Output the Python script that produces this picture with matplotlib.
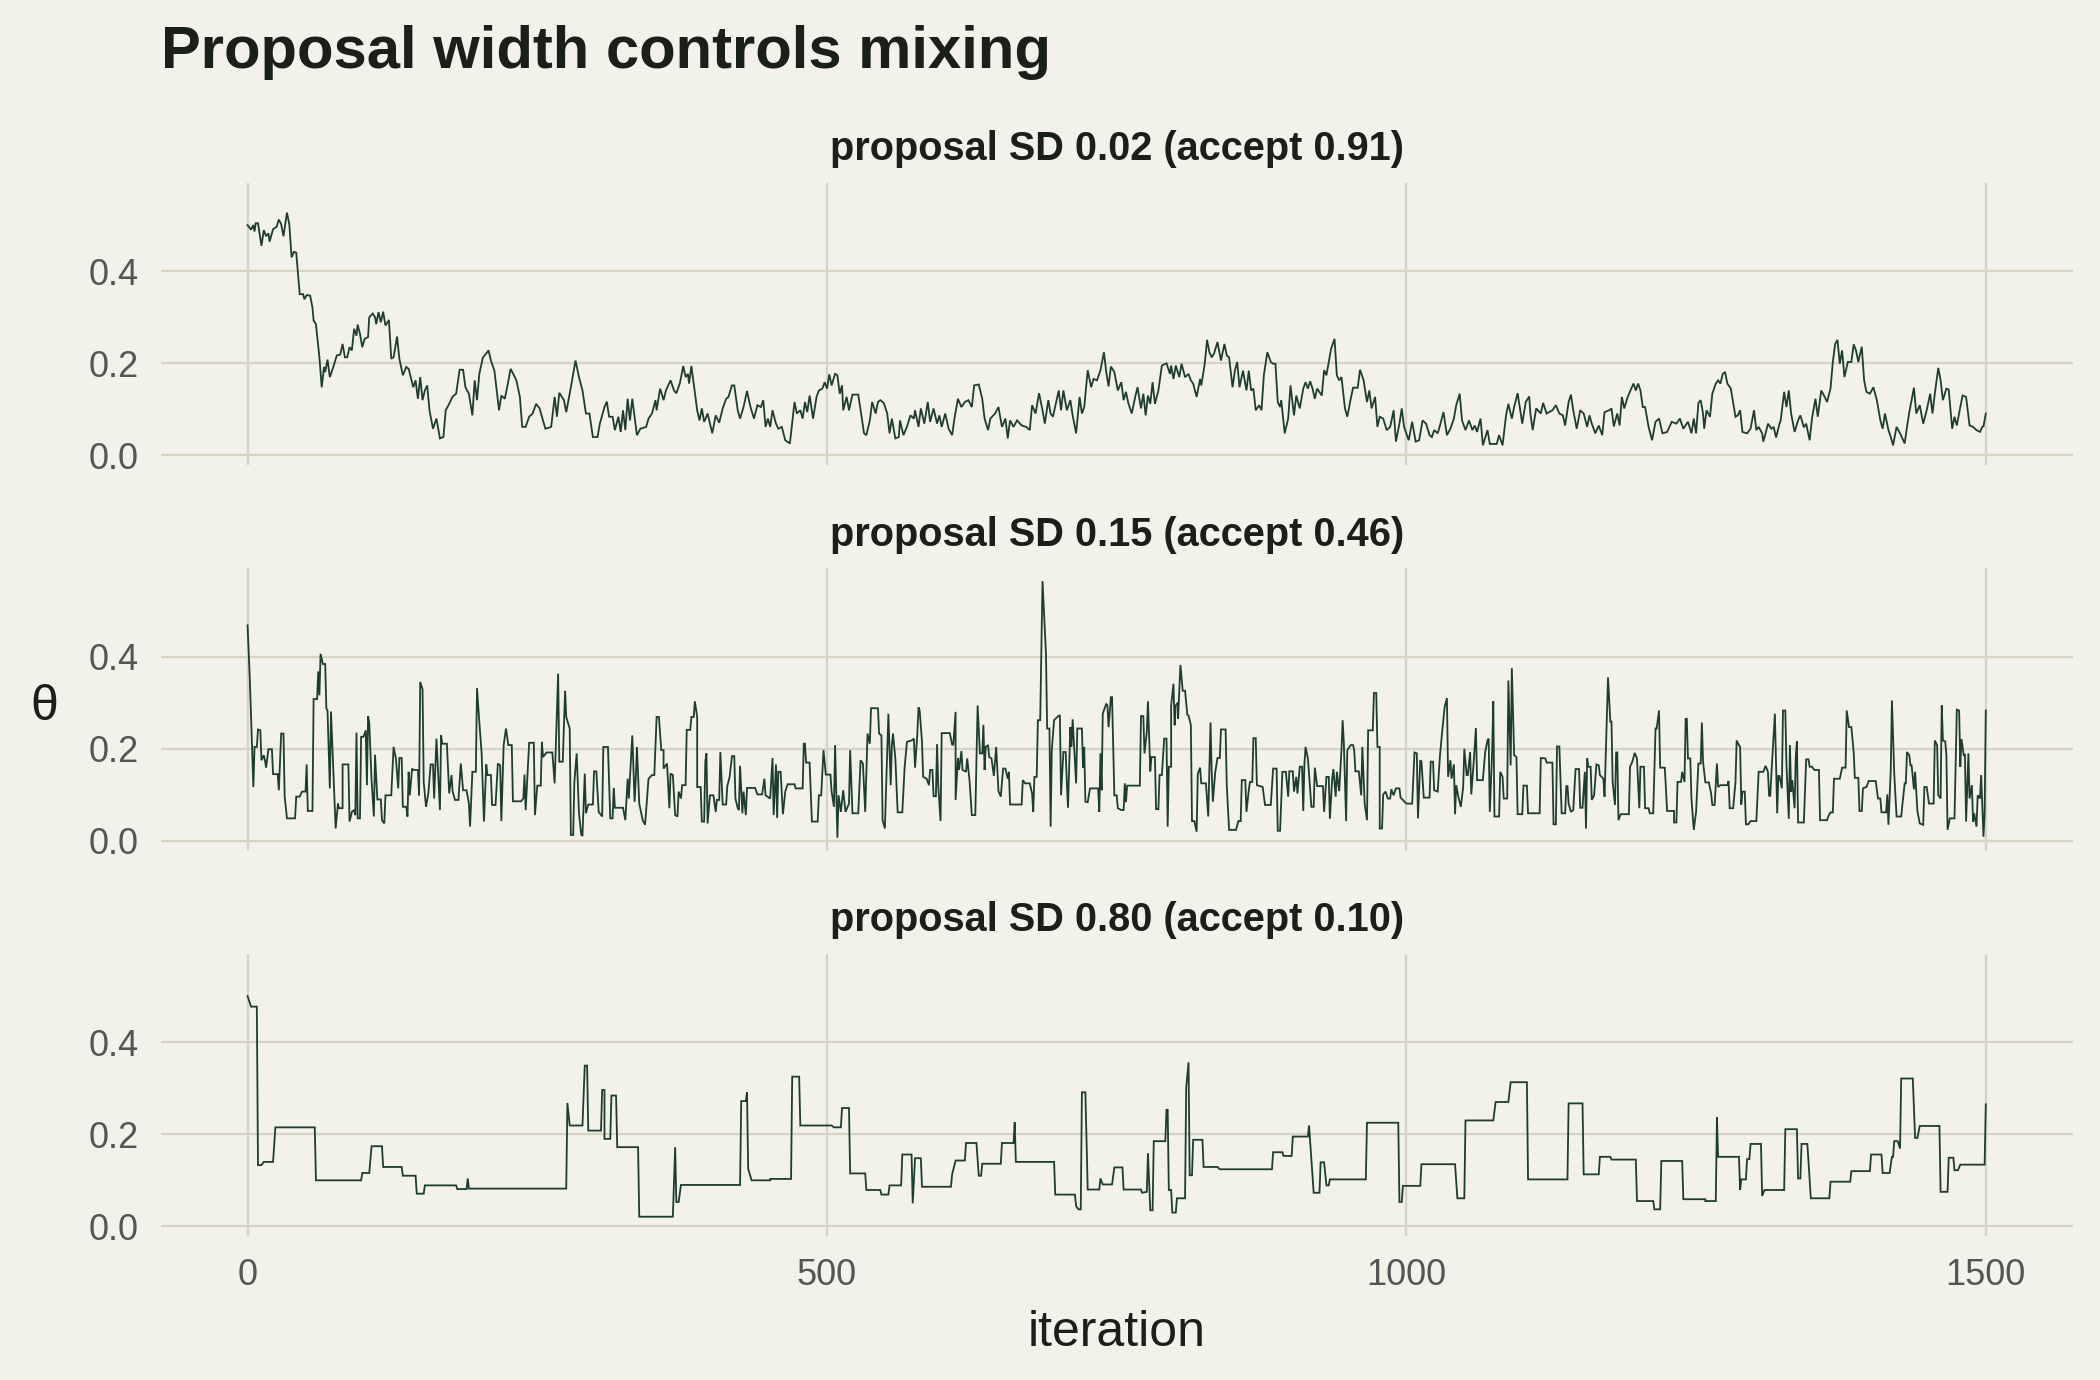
import matplotlib.pyplot as plt

# (iteration, theta) pairs
trace_sd002 = [
    (0, .50), (3, .49), (5, .50), (6, .486), (7, .504), (9, .504), (12, .455), (14, .489), (16, .476), (18, .482),
    (19, .464), (22, .491), (25, .496), (27, .512), (29, .502), (31, .476), (34, .527), (36, .502), (38, .43), (40, .442),
    (42, .44), (45, .35), (48, .35), (49, .339), (51, .348), (54, .347), (56, .321), (57, .293), (59, .285), (62, .213),
    (64, .148), (66, .192), (67, .181), (69, .208), (71, .17), (74, .192), (77, .217), (80, .219), (82, .242), (84, .213),
    (86, .213), (88, .235), (90, .228), (92, .275), (94, .26), (95, .284), (97, .264), (99, .235), (101, .253), (104, .257),
    (105, .30), (108, .308), (110, .30), (111, .285), (113, .311), (115, .289), (117, .312), (119, .282), (122, .294), (124, .21),
    (126, .213), (129, .258), (131, .21), (134, .174), (137, .192), (139, .188), (143, .148), (145, .163), (147, .123), (149, .17),
    (151, .12), (153, .141), (155, .152), (157, .098), (160, .058), (163, .08), (166, .037), (169, .04), (171, .098), (174, .112),
    (177, .128), (180, .134), (183, .186), (186, .186), (188, .148), (191, .134), (194, .087), (196, .163), (198, .12), (200, .177),
    (203, .212), (208, .228), (210, .206), (213, .184), (217, .098), (219, .13), (222, .123), (224, .148), (227, .188), (232, .163),
    (235, .127), (237, .062), (240, .062), (243, .084), (246, .091), (249, .112), (252, .102), (255, .076), (257, .058), (262, .062),
    (265, .127), (267, .084), (269, .136), (273, .12), (275, .094), (279, .148), (283, .206), (286, .17), (289, .141), (292, .091),
    (295, .091), (298, .04), (302, .04), (304, .069), (308, .105), (310, .117), (312, .084), (315, .084), (317, .055), (320, .084),
    (322, .051), (324, .098), (326, .055), (328, .123), (330, .076), (332, .123), (336, .044), (339, .058), (344, .062), (346, .08),
    (349, .091), (352, .12), (353, .098), (356, .145), (359, .12), (361, .141), (365, .163), (368, .141), (370, .135), (373, .156),
    (376, .194), (378, .17), (380, .177), (381, .156), (383, .194), (385, .156), (388, .098), (390, .076), (392, .102), (394, .073),
    (397, .091), (401, .048), (404, .087), (407, .071), (410, .102), (413, .123), (415, .127), (418, .152), (420, .152), (423, .098),
    (425, .08), (428, .105), (431, .14), (434, .105), (437, .08), (440, .109), (443, .105), (445, .12), (447, .062), (449, .08),
    (451, .062), (453, .098), (456, .069), (458, .058), (461, .062), (464, .033), (468, .026), (472, .116), (474, .091), (477, .098),
    (479, .08), (481, .116), (483, .094), (485, .13), (488, .08), (491, .127), (493, .141), (496, .145), (498, .159), (500, .145),
    (502, .176), (504, .152), (507, .177), (509, .174), (511, .134), (513, .152), (514, .098), (517, .127), (519, .098), (522, .132),
    (527, .132), (529, .098), (532, .048), (534, .044), (537, .076), (539, .116), (542, .091), (544, .116), (546, .12), (549, .114),
    (552, .091), (554, .048), (556, .08), (559, .037), (562, .04), (563, .076), (566, .044), (569, .062), (572, .087), (575, .08),
    (576, .098), (579, .062), (581, .102), (584, .069), (587, .116), (589, .073), (592, .102), (595, .069), (597, .087), (599, .062),
    (602, .091), (605, .058), (608, .044), (610, .08), (613, .123), (616, .105), (619, .116), (622, .12), (625, .105), (627, .152),
    (631, .154), (634, .123), (636, .08), (639, .055), (641, .08), (645, .091), (648, .105), (651, .062), (654, .08), (656, .037),
    (658, .076), (661, .062), (664, .076), (668, .065), (672, .062), (675, .055), (677, .109), (680, .091), (683, .135), (686, .098),
    (688, .069), (691, .12), (693, .091), (695, .084), (700, .141), (702, .098), (704, .141), (707, .098), (710, .12), (712, .087),
    (715, .048), (718, .127), (720, .091), (722, .105), (725, .185), (728, .148), (730, .166), (733, .163), (736, .185), (739, .224),
    (741, .181), (743, .15), (745, .193), (748, .181), (751, .141), (754, .159), (756, .12), (758, .138), (760, .114), (763, .091),
    (766, .127), (768, .148), (771, .102), (773, .134), (775, .087), (777, .13), (779, .112), (781, .159), (783, .112), (786, .141),
    (789, .195), (793, .20), (796, .177), (797, .195), (799, .166), (801, .195), (804, .17), (806, .199), (809, .17), (812, .177),
    (814, .163), (816, .156), (819, .127), (822, .166), (823, .152), (826, .199), (828, .251), (830, .224), (832, .213), (834, .221),
    (837, .246), (840, .206), (843, .242), (845, .217), (847, .213), (850, .148), (852, .184), (854, .203), (856, .148), (859, .184),
    (862, .141), (864, .184), (866, .141), (868, .145), (870, .098), (873, .109), (875, .098), (877, .174), (880, .224), (883, .203),
    (885, .199), (887, .199), (889, .116), (891, .105), (892, .12), (895, .048), (898, .08), (900, .152), (903, .087), (905, .13),
    (908, .102), (911, .145), (913, .159), (915, .145), (917, .161), (919, .145), (921, .123), (923, .145), (927, .13), (929, .185),
    (931, .174), (935, .231), (938, .253), (940, .174), (942, .163), (944, .17), (947, .102), (949, .084), (952, .123), (954, .147),
    (958, .147), (960, .186), (963, .164), (966, .116), (968, .141), (970, .102), (973, .127), (975, .062), (977, .084), (980, .08),
    (983, .055), (986, .062), (989, .098), (991, .03), (994, .069), (996, .102), (998, .062), (1002, .033), (1005, .073), (1008, .03),
    (1011, .033), (1014, .076), (1017, .069), (1020, .044), (1022, .04), (1024, .055), (1027, .048), (1029, .065), (1032, .094), (1035, .044),
    (1038, .058), (1041, .08), (1043, .109), (1046, .134), (1048, .076), (1051, .055), (1054, .076), (1057, .055), (1059, .065), (1061, .051),
    (1064, .08), (1066, .022), (1070, .055), (1072, .025), (1078, .025), (1080, .044), (1083, .022), (1086, .087), (1088, .112), (1091, .08),
    (1093, .105), (1096, .135), (1100, .069), (1103, .116), (1106, .128), (1107, .091), (1109, .055), (1112, .102), (1116, .091), (1118, .114),
    (1121, .091), (1126, .098), (1129, .109), (1132, .091), (1135, .087), (1137, .065), (1140, .116), (1142, .132), (1144, .098), (1147, .058),
    (1150, .098), (1153, .091), (1156, .062), (1158, .087), (1160, .069), (1163, .048), (1166, .065), (1169, .044), (1171, .094), (1175, .098),
    (1177, .102), (1179, .063), (1182, .091), (1184, .065), (1186, .127), (1188, .102), (1191, .127), (1194, .145), (1196, .156), (1198, .141),
    (1200, .156), (1202, .141), (1204, .105), (1206, .105), (1209, .062), (1212, .033), (1215, .073), (1218, .08), (1221, .048), (1225, .051),
    (1229, .073), (1233, .069), (1236, .08), (1239, .058), (1243, .073), (1246, .048), (1248, .08), (1250, .048), (1252, .114), (1254, .12),
    (1256, .091), (1257, .058), (1259, .098), (1262, .084), (1264, .134), (1267, .156), (1269, .163), (1271, .156), (1273, .177), (1275, .181),
    (1277, .156), (1280, .145), (1284, .084), (1286, .087), (1288, .098), (1290, .051), (1294, .048), (1297, .058), (1300, .098), (1302, .055),
    (1304, .062), (1307, .048), (1308, .03), (1311, .058), (1312, .069), (1315, .058), (1317, .062), (1319, .039), (1322, .069), (1323, .076),
    (1326, .138), (1328, .105), (1330, .141), (1332, .091), (1335, .051), (1338, .076), (1340, .087), (1343, .061), (1345, .069), (1348, .033),
    (1350, .08), (1353, .123), (1355, .084), (1358, .141), (1361, .127), (1363, .116), (1366, .145), (1368, .203), (1370, .242), (1372, .251),
    (1374, .199), (1376, .228), (1378, .17), (1381, .203), (1384, .203), (1386, .241), (1388, .228), (1390, .203), (1393, .236), (1395, .163),
    (1397, .138), (1400, .134), (1403, .148), (1406, .12), (1409, .076), (1411, .058), (1413, .091), (1416, .055), (1418, .04), (1420, .022),
    (1423, .062), (1426, .048), (1430, .026), (1432, .062), (1434, .094), (1438, .147), (1440, .091), (1443, .109), (1446, .069), (1449, .098),
    (1452, .134), (1454, .091), (1456, .134), (1459, .19), (1461, .163), (1463, .12), (1466, .145), (1468, .143), (1471, .058), (1473, .084),
    (1475, .065), (1478, .105), (1480, .13), (1483, .127), (1486, .065), (1489, .062), (1492, .055), (1495, .051), (1497, .062), (1498, .063),
    (1500, .091),
]

trace_sd015 = [
    (0, .468), (2, .348), (5, .121), (5, .117), (6, .204), (8, .204), (9, .242), (11, .24), (12, .175), (14, .186),
    (15, .175), (16, .159), (18, .199), (21, .199), (22, .145), (26, .145), (27, .11), (29, .233), (31, .233), (32, .097),
    (34, .049), (41, .049), (42, .096), (45, .096), (47, .107), (50, .107), (51, .166), (52, .065), (56, .065), (57, .308),
    (60, .308), (61, .368), (62, .316), (63, .406), (65, .384), (67, .384), (68, .287), (69, .283), (71, .114), (72, .281),
    (74, .156), (76, .027), (78, .081), (79, .071), (82, .071), (82, .166), (87, .166), (88, .042), (90, .063), (92, .067),
    (93, .056), (94, .235), (95, .049), (97, .049), (98, .226), (100, .226), (102, .24), (103, .121), (104, .271), (105, .258),
    (107, .132), (109, .053), (110, .187), (112, .09), (115, .09), (116, .045), (118, .038), (119, .099), (124, .099), (126, .204),
    (128, .179), (130, .114), (131, .18), (133, .18), (134, .074), (137, .074), (138, .053), (139, .15), (140, .099), (142, .157),
    (143, .154), (147, .154), (148, .099), (149, .345), (151, .329), (152, .128), (154, .074), (156, .103), (158, .166), (160, .166),
    (161, .092), (163, .222), (166, .067), (167, .229), (168, .211), (172, .211), (174, .103), (176, .143), (177, .107), (179, .089),
    (182, .089), (184, .168), (186, .11), (189, .11), (191, .081), (192, .031), (194, .15), (197, .15), (198, .332), (200, .258),
    (202, .19), (204, .042), (206, .166), (207, .143), (210, .143), (211, .078), (214, .078), (216, .168), (218, .164), (219, .043),
    (221, .208), (223, .244), (225, .208), (228, .208), (229, .086), (236, .086), (238, .092), (239, .144), (240, .067), (243, .213),
    (247, .213), (248, .056), (250, .12), (253, .12), (254, .215), (255, .182), (258, .192), (263, .192), (265, .125), (266, .204),
    (268, .363), (269, .172), (272, .172), (274, .326), (275, .269), (278, .244), (279, .013), (281, .013), (282, .128), (284, .19),
    (286, .06), (288, .013), (289, .012), (291, .146), (292, .06), (294, .079), (298, .079), (299, .151), (301, .151), (303, .063),
    (306, .053), (307, .204), (311, .204), (313, .049), (315, .049), (316, .115), (317, .072), (324, .072), (326, .045), (328, .135),
    (329, .092), (332, .229), (334, .085), (335, .135), (336, .204), (338, .081), (341, .045), (343, .035), (344, .067), (346, .135),
    (349, .143), (351, .143), (353, .269), (355, .269), (357, .197), (359, .197), (359, .157), (362, .168), (364, .071), (365, .146),
    (367, .143), (369, .056), (371, .053), (372, .107), (374, .092), (375, .121), (378, .121), (379, .241), (382, .241), (383, .269),
    (385, .269), (386, .303), (388, .269), (388, .117), (391, .117), (392, .042), (394, .042), (395, .172), (396, .19), (397, .038),
    (399, .099), (402, .099), (404, .063), (405, .089), (407, .089), (408, .193), (410, .079), (413, .079), (414, .119), (416, .139),
    (418, .184), (420, .184), (421, .092), (423, .071), (424, .067), (425, .163), (427, .06), (428, .107), (430, .056), (431, .115),
    (438, .115), (440, .101), (444, .101), (446, .135), (447, .099), (451, .092), (453, .18), (454, .056), (456, .166), (457, .05),
    (458, .15), (460, .15), (462, .058), (464, .107), (466, .123), (472, .123), (473, .114), (479, .114), (480, .211), (481, .211),
    (482, .17), (485, .17), (487, .042), (492, .042), (493, .099), (495, .099), (497, .197), (499, .144), (503, .144), (504, .107),
    (506, .074), (507, .208), (509, .007), (510, .099), (512, .063), (514, .11), (516, .063), (519, .081), (520, .197), (522, .06),
    (527, .06), (529, .175), (531, .168), (533, .063), (535, .233), (537, .211), (538, .288), (544, .288), (545, .233), (547, .229),
    (548, .045), (550, .027), (551, .114), (553, .276), (555, .121), (556, .208), (557, .233), (559, .179), (561, .062), (565, .062),
    (567, .159), (569, .215), (573, .218), (575, .222), (576, .159), (578, .233), (579, .29), (580, .283), (582, .215), (583, .139),
    (586, .135), (588, .121), (589, .154), (591, .154), (592, .097), (594, .097), (595, .21), (596, .121), (598, .043), (599, .234),
    (606, .234), (608, .209), (609, .209), (611, .28), (611, .089), (613, .179), (614, .154), (616, .195), (617, .154), (620, .15),
    (621, .179), (623, .132), (625, .056), (628, .056), (630, .294), (632, .19), (634, .19), (635, .252), (636, .154), (637, .204),
    (639, .208), (640, .182), (642, .179), (644, .141), (646, .204), (648, .108), (650, .096), (652, .157), (654, .157), (656, .135),
    (657, .15), (658, .079), (668, .079), (669, .132), (671, .125), (675, .125), (677, .103), (678, .063), (679, .139), (681, .139),
    (682, .262), (684, .262), (686, .564), (689, .406), (690, .244), (692, .244), (693, .031), (694, .197), (696, .262), (700, .272),
    (701, .272), (702, .099), (704, .193), (706, .193), (707, .125), (708, .072), (710, .247), (711, .204), (712, .264), (715, .125),
    (716, .244), (720, .244), (721, .159), (722, .204), (723, .085), (725, .084), (727, .114), (734, .114), (735, .063), (736, .19),
    (737, .11), (738, .276), (741, .298), (742, .294), (743, .247), (745, .312), (746, .312), (748, .099), (750, .099), (751, .071),
    (754, .067), (756, .067), (757, .125), (758, .084), (759, .12), (770, .12), (771, .271), (773, .271), (774, .19), (776, .236),
    (777, .303), (779, .151), (780, .182), (783, .182), (784, .069), (786, .069), (787, .143), (789, .143), (791, .222), (793, .222),
    (794, .031), (795, .161), (797, .161), (797, .294), (799, .341), (800, .251), (801, .294), (803, .301), (803, .265), (805, .382),
    (807, .326), (809, .326), (811, .274), (812, .272), (814, .252), (815, .043), (817, .043), (819, .02), (820, .146), (822, .159),
    (823, .125), (827, .125), (829, .053), (831, .257), (832, .15), (833, .085), (835, .148), (837, .18), (839, .18), (840, .242),
    (844, .242), (845, .121), (847, .024), (853, .024), (855, .043), (857, .043), (858, .132), (861, .132), (862, .063), (864, .11),
    (865, .128), (867, .128), (868, .223), (870, .223), (871, .121), (876, .117), (878, .078), (883, .078), (885, .157), (888, .157),
    (889, .022), (891, .022), (893, .15), (896, .15), (898, .096), (899, .151), (902, .151), (903, .107), (905, .139), (906, .103),
    (908, .161), (910, .161), (911, .065), (912, .166), (913, .204), (915, .179), (916, .146), (918, .074), (920, .074), (921, .159),
    (923, .119), (928, .119), (929, .063), (931, .139), (933, .139), (934, .048), (936, .135), (937, .156), (939, .096), (940, .15),
    (942, .108), (944, .197), (945, .262), (946, .215), (948, .043), (949, .197), (952, .208), (954, .208), (955, .197), (956, .151),
    (959, .151), (961, .099), (962, .204), (964, .081), (966, .045), (967, .24), (971, .24), (972, .321), (974, .321), (975, .204),
    (977, .204), (977, .027), (979, .027), (980, .101), (982, .107), (984, .092), (986, .092), (987, .112), (989, .099), (991, .114),
    (994, .114), (995, .094), (1000, .081), (1005, .081), (1007, .192), (1009, .19), (1010, .049), (1012, .175), (1013, .172), (1015, .094),
    (1020, .094), (1021, .172), (1023, .172), (1024, .11), (1027, .107), (1029, .186), (1031, .24), (1033, .29), (1035, .31), (1036, .139),
    (1038, .175), (1039, .135), (1041, .166), (1042, .058), (1043, .121), (1045, .094), (1047, .074), (1049, .117), (1050, .2), (1052, .143),
    (1053, .143), (1055, .193), (1056, .101), (1058, .168), (1060, .245), (1061, .132), (1066, .132), (1068, .193), (1070, .218), (1071, .222),
    (1072, .063), (1074, .193), (1075, .303), (1076, .053), (1080, .053), (1081, .15), (1083, .139), (1084, .092), (1087, .092), (1088, .348),
    (1090, .164), (1091, .375), (1093, .186), (1095, .182), (1096, .058), (1100, .058), (1101, .12), (1104, .12), (1105, .06), (1115, .06),
    (1116, .18), (1120, .179), (1121, .17), (1126, .17), (1127, .036), (1129, .036), (1130, .205), (1132, .205), (1134, .06), (1137, .06),
    (1138, .119), (1139, .119), (1140, .081), (1142, .063), (1144, .067), (1146, .156), (1149, .156), (1150, .072), (1152, .072), (1154, .15),
    (1155, .027), (1156, .179), (1157, .161), (1159, .161), (1160, .089), (1162, .099), (1164, .166), (1166, .164), (1167, .143), (1170, .135),
    (1171, .096), (1173, .265), (1174, .355), (1176, .259), (1177, .259), (1178, .128), (1180, .078), (1181, .192), (1182, .192), (1183, .045),
    (1185, .058), (1192, .058), (1193, .161), (1195, .172), (1197, .191), (1199, .179), (1201, .071), (1202, .161), (1205, .161), (1206, .071),
    (1209, .071), (1210, .06), (1213, .06), (1215, .244), (1216, .244), (1218, .283), (1219, .159), (1223, .159), (1225, .065), (1231, .065),
    (1231, .04), (1233, .04), (1234, .128), (1237, .128), (1238, .15), (1240, .128), (1241, .265), (1242, .265), (1243, .179), (1245, .179),
    (1246, .092), (1248, .024), (1250, .063), (1252, .168), (1254, .168), (1255, .257), (1256, .172), (1258, .127), (1261, .127), (1263, .103),
    (1264, .078), (1266, .078), (1268, .168), (1269, .117), (1271, .121), (1277, .121), (1278, .13), (1279, .071), (1282, .071), (1284, .128),
    (1285, .218), (1287, .208), (1288, .204), (1289, .079), (1290, .107), (1292, .107), (1293, .036), (1295, .036), (1297, .043), (1302, .043),
    (1304, .15), (1308, .15), (1310, .163), (1312, .15), (1313, .098), (1314, .098), (1315, .146), (1318, .276), (1320, .06), (1321, .141),
    (1322, .141), (1324, .114), (1325, .283), (1327, .283), (1328, .164), (1330, .048), (1331, .208), (1332, .107), (1333, .132), (1335, .071),
    (1336, .182), (1337, .216), (1338, .04), (1343, .04), (1345, .177), (1347, .177), (1348, .161), (1350, .161), (1352, .154), (1356, .154),
    (1357, .045), (1363, .045), (1364, .053), (1366, .062), (1368, .062), (1369, .135), (1374, .135), (1376, .159), (1379, .159), (1380, .283),
    (1382, .247), (1384, .247), (1386, .193), (1387, .137), (1390, .137), (1391, .065), (1393, .065), (1394, .114), (1397, .117), (1399, .13),
    (1405, .13), (1407, .092), (1409, .092), (1410, .062), (1414, .062), (1415, .101), (1416, .035), (1418, .154), (1419, .305), (1421, .146),
    (1423, .053), (1427, .053), (1428, .078), (1430, .125), (1431, .125), (1432, .193), (1434, .186), (1435, .164), (1436, .164), (1438, .112),
    (1439, .15), (1441, .065), (1443, .038), (1446, .035), (1447, .117), (1449, .117), (1451, .081), (1455, .081), (1456, .218), (1458, .208),
    (1459, .099), (1461, .092), (1462, .294), (1463, .218), (1465, .216), (1466, .187), (1467, .024), (1469, .049), (1473, .049), (1475, .285),
    (1477, .283), (1478, .161), (1479, .221), (1481, .186), (1482, .187), (1483, .042), (1485, .19), (1486, .092), (1488, .121), (1489, .042),
    (1490, .06), (1492, .031), (1493, .099), (1495, .092), (1496, .143), (1498, .009), (1499, .06), (1500, .283),
]

trace_sd080 = [
    (0, .50), (3, .477), (8, .477), (9, .133), (12, .133), (14, .14), (22, .14), (24, .215), (58, .215), (59, .10),
    (98, .10), (99, .116), (105, .116), (107, .174), (116, .174), (117, .129), (133, .129), (134, .11), (145, .11), (146, .071),
    (152, .071), (153, .089), (180, .089), (181, .081), (189, .081), (190, .104), (191, .082), (275, .082), (276, .268), (278, .219),
    (289, .219), (291, .349), (293, .349), (294, .208), (305, .208), (306, .296), (308, .296), (308, .19), (313, .19), (314, .284),
    (318, .284), (319, .172), (337, .172), (338, .021), (367, .021), (369, .172), (370, .053), (372, .053), (374, .09), (425, .09),
    (426, .272), (430, .272), (431, .291), (432, .125), (435, .10), (451, .10), (451, .103), (469, .103), (470, .325), (476, .325),
    (477, .219), (504, .219), (506, .215), (512, .215), (513, .257), (519, .257), (520, .115), (533, .115), (534, .079), (546, .079),
    (547, .069), (553, .069), (554, .089), (564, .089), (565, .156), (573, .156), (574, .05), (576, .148), (581, .148), (582, .086),
    (607, .086), (608, .113), (611, .143), (619, .143), (620, .181), (629, .181), (631, .11), (633, .11), (634, .136), (650, .136),
    (651, .181), (661, .181), (662, .226), (663, .14), (696, .14), (697, .069), (714, .069), (715, .044), (717, .037), (719, .037),
    (720, .291), (723, .291), (725, .08), (735, .08), (736, .104), (738, .091), (746, .091), (748, .128), (755, .128), (756, .08),
    (771, .08), (772, .073), (776, .075), (777, .159), (779, .035), (781, .035), (782, .185), (792, .185), (793, .253), (794, .253),
    (795, .079), (797, .079), (798, .03), (801, .03), (802, .061), (809, .061), (810, .302), (812, .356), (813, .111), (815, .111),
    (816, .188), (824, .188), (825, .129), (837, .129), (839, .124), (884, .124), (885, .161), (893, .161), (894, .153), (901, .153),
    (902, .195), (915, .195), (916, .219), (918, .147), (920, .073), (925, .073), (926, .139), (929, .139), (931, .089), (933, .089),
    (934, .102), (965, .102), (966, .225), (993, .225), (994, .053), (996, .053), (997, .088), (1012, .088), (1013, .135), (1042, .135),
    (1044, .061), (1050, .061), (1051, .23), (1075, .23), (1077, .27), (1088, .27), (1090, .313), (1104, .313), (1105, .102), (1139, .102),
    (1140, .267), (1152, .267), (1153, .113), (1166, .113), (1167, .151), (1176, .151), (1177, .145), (1198, .145), (1199, .055), (1213, .055),
    (1214, .037), (1219, .037), (1220, .142), (1238, .142), (1239, .059), (1258, .059), (1258, .055), (1267, .055), (1268, .237), (1269, .151),
    (1287, .151), (1288, .079), (1289, .102), (1293, .102), (1294, .146), (1296, .146), (1297, .179), (1306, .179), (1307, .066), (1309, .079),
    (1326, .079), (1327, .211), (1337, .211), (1338, .104), (1340, .104), (1341, .179), (1346, .179), (1347, .141), (1349, .061), (1365, .061),
    (1366, .097), (1383, .097), (1384, .12), (1400, .12), (1401, .156), (1410, .156), (1411, .116), (1417, .116), (1419, .151), (1420, .151),
    (1421, .185), (1424, .185), (1426, .169), (1427, .321), (1437, .321), (1439, .192), (1441, .192), (1443, .218), (1460, .218), (1461, .075),
    (1467, .075), (1468, .149), (1472, .149), (1473, .122), (1476, .122), (1478, .134), (1499, .134), (1500, .265),
]

traces = [trace_sd002, trace_sd015, trace_sd080]
panel_titles = [
    "proposal SD 0.02 (accept 0.91)",
    "proposal SD 0.15 (accept 0.46)",
    "proposal SD 0.80 (accept 0.10)",
]
x_ticks = [0, 500, 1000, 1500]
y_ticks = [0.0, 0.2, 0.4]

BG = "#f2f1ea"
GRID = "#d6d5c4"
LINE = "#1f3d2d"
INK = "#1a1f1a"
TICK = "#555555"

plt.rcParams["font.family"] = ["Liberation Sans", "DejaVu Sans"]

fig, axes = plt.subplots(3, 1, figsize=(10.5, 6.9), dpi=200, sharex=True, sharey=True)
fig.patch.set_facecolor(BG)
fig.subplots_adjust(left=0.0765, right=0.987, top=0.8676, bottom=0.1043, hspace=0.365)

for ax, trace, title in zip(axes, traces, panel_titles):
    it = [p[0] for p in trace]
    theta = [p[1] for p in trace]
    ax.plot(it, theta, color=LINE, lw=0.65, solid_joinstyle="miter")
    ax.set_facecolor(BG)
    ax.set_title(title, fontsize=14.3, fontweight="bold", color=INK, pad=8)
    ax.grid(True, color=GRID, lw=0.8)
    ax.set_axisbelow(True)
    for s in ax.spines.values():
        s.set_visible(False)
    ax.tick_params(length=0, labelsize=13, colors=TICK, pad=8)

ax = axes[-1]
ax.set_xticks(x_ticks)
ax.set_yticks(y_ticks)
ax.set_xlim(-75, 1575)
ax.set_ylim(-0.021, 0.592)
ax.set_xlabel("iteration", fontsize=18, color=INK, labelpad=6)

fig.text(0.021, 0.488, "θ", fontsize=18, color=INK, ha="center", va="center")
fig.text(0.0765, 0.951, "Proposal width controls mixing", fontsize=21.5,
         fontweight="bold", color=INK, ha="left", va="baseline")

fig.savefig("out.png", dpi=200, facecolor=BG)
